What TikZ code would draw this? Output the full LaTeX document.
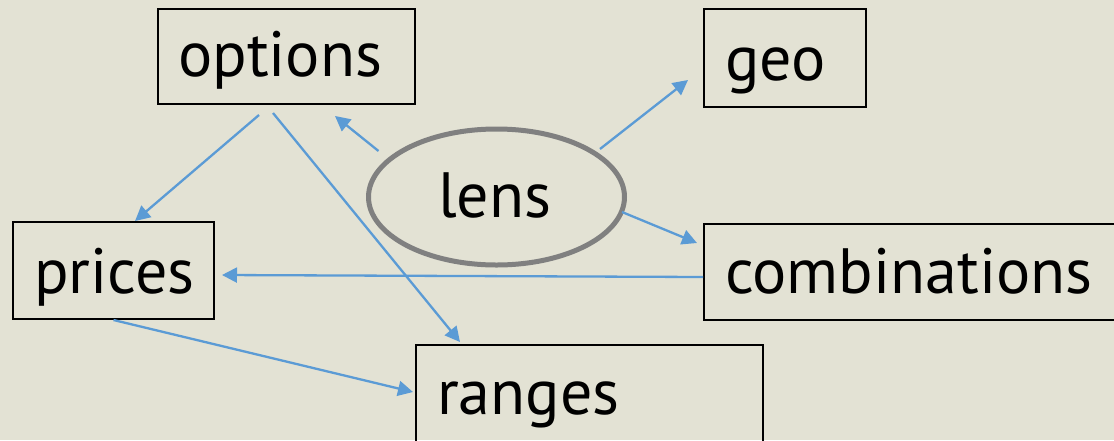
\documentclass[tikz,border=0pt]{standalone}
\usepackage{fontspec}
\setmainfont{PT Sans}
\usetikzlibrary{arrows.meta,calc,shapes.geometric}
\definecolor{bg}{RGB}{227,226,212}
\definecolor{arrowblue}{RGB}{91,155,213}
\definecolor{lensgray}{RGB}{128,128,128}
\tikzset{
  box/.style={draw=black,line width=2pt,rectangle,inner sep=0pt,anchor=north west},
  lbl/.style={font=\fontsize{64}{72}\selectfont,inner sep=0pt,anchor=base west},
  arr/.style={draw=arrowblue,line width=2.3pt,-{Triangle[length=15pt,width=15pt]}},
}
\begin{document}
\begin{tikzpicture}[x=1pt,y=-1pt]
\fill[bg] (0,0) rectangle (1114,440);
\useasboundingbox (0,0) rectangle (1114,440);
% boxes
\node[box,minimum width=257pt,minimum height=95pt] (options) at (157,8) {};
\node[box,minimum width=162pt,minimum height=98pt] (geo) at (703,8) {};
\node[box,minimum width=201pt,minimum height=97pt] (prices) at (12,221) {};
\node[box,minimum width=420pt,minimum height=96pt] (combinations) at (703,223) {};
\node[box,minimum width=347pt,minimum height=130pt] (ranges) at (415,344) {};
\node[draw=lensgray,line width=5pt,ellipse,minimum width=256pt,minimum height=136pt,inner sep=0pt] (lens) at (496.5,197) {};
% labels
\node[lbl] (optionsT) at (178,76) {options};
\node[lbl] (geoT) at (725,80) {geo};
\node[lbl] (pricesT) at (34,293) {prices};
\node[lbl] (combinationsT) at (725,293) {combinations};
\node[lbl] (rangesT) at (437,414) {ranges};
\node[lbl] (lensT) at (438,217) {lens};
% connectors
\draw[arr] ($(lens.center)+(-118,-46)$) -- ($(options.south east)+(-81,11)$);
\draw[arr] ($(lens.center)+(103.5,-48)$) -- ($(geo.west)+(-15,22)$);
\draw[arr] ($(lens.center)+(125.5,15)$) -- ($(combinations.north west)+(-6,20)$);
\draw[arr] ($(options.south)+(-27.5,10)$) -- ($(prices.north)+(21.5,0)$);
\draw[arr] ($(options.south)+(-13.5,8)$) -- ($(ranges.north west)+(45,-2)$);
\draw[arr] ($(combinations.north west)+(0,54)$) -- ($(prices.east)+(7,4.5)$);
\draw[arr] (prices.south) -- ($(ranges.north west)+(-2,48)$);
\end{tikzpicture}
\end{document}
